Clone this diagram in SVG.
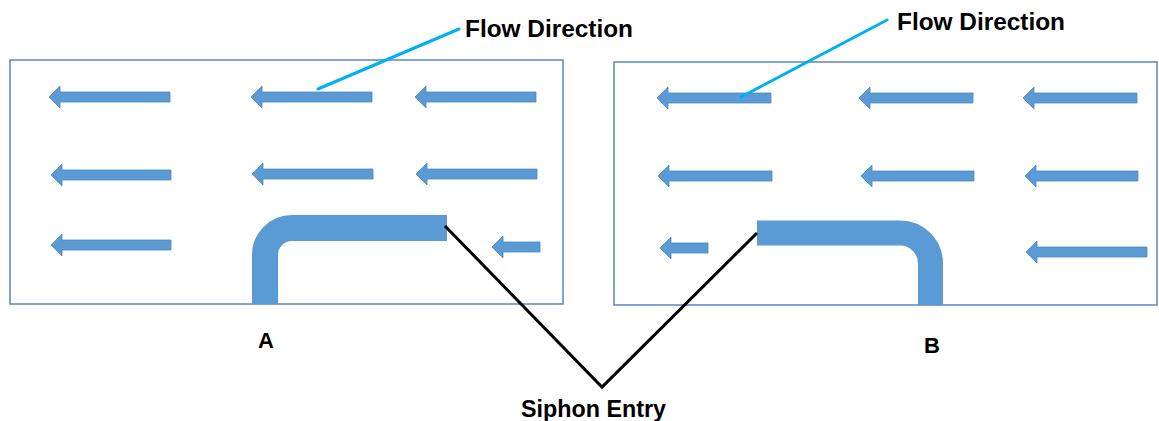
<svg xmlns="http://www.w3.org/2000/svg" width="1159" height="421" viewBox="0 0 1159 421">
<style>
.box{fill:#ffffff;stroke:#5A87BE;stroke-width:1.5}
.arr{fill:#5B9BD5;stroke:#4F86BF;stroke-width:0.8;stroke-linejoin:miter}
.siphon{fill:none;stroke:#5B9BD5}
.lbl{font-family:"Liberation Sans",Arial,sans-serif;font-weight:bold;fill:#000000}
.blue{stroke:#00B0F0;stroke-width:3;fill:none;stroke-linecap:round}
.blk{stroke:#000000;stroke-width:3;fill:none;stroke-linejoin:miter}
</style>
<rect width="1159" height="421" fill="#ffffff"/>
<g id="panelA">
<rect class="box" x="10" y="60" width="553" height="244"/>
<g id="arrowsA">
<polygon class="arr" points="49,97 60,86 60,92 170,92 170,102 60,102 60,108"/>
<polygon class="arr" points="251,97 262,86 262,92 372,92 372,102 262,102 262,108"/>
<polygon class="arr" points="415,97 426,86 426,92 536,92 536,102 426,102 426,108"/>
<polygon class="arr" points="51,175 62,164 62,170 171,170 171,180 62,180 62,186"/>
<polygon class="arr" points="252,174 263,163 263,169 373,169 373,179 263,179 263,185"/>
<polygon class="arr" points="416,174 427,163 427,169 537,169 537,179 427,179 427,185"/>
<polygon class="arr" points="51,245 62,234 62,240 171,240 171,250 62,250 62,256"/>
<polygon class="arr" points="492,247 503,236 503,242 540,242 540,252 503,252 503,258"/>
</g>
<path id="siphonA" class="siphon" stroke-width="26" d="M265 304 V255 A27 27 0 0 1 292 228 H447"/>
<text id="labelA" class="lbl" x="258" y="348" font-size="22">A</text>
</g>
<g id="panelB">
<rect class="box" x="614" y="62" width="543" height="243"/>
<g id="arrowsB">
<polygon class="arr" points="657,98 668,87 668,93 771,93 771,103 668,103 668,109"/>
<polygon class="arr" points="859,98 870,87 870,93 973,93 973,103 870,103 870,109"/>
<polygon class="arr" points="1023,98 1034,87 1034,93 1137,93 1137,103 1034,103 1034,109"/>
<polygon class="arr" points="658,176 669,165 669,171 772,171 772,181 669,181 669,187"/>
<polygon class="arr" points="861,176 872,165 872,171 974,171 974,181 872,181 872,187"/>
<polygon class="arr" points="1025,176 1036,165 1036,171 1138,171 1138,181 1036,181 1036,187"/>
<polygon class="arr" points="660,248 671,237 671,243 708,243 708,253 671,253 671,259"/>
<polygon class="arr" points="1026,252 1037,241 1037,247 1147,247 1147,257 1037,257 1037,263"/>
</g>
<path id="siphonB" class="siphon" stroke-width="25" d="M757 233 H900 A30.5 30.5 0 0 1 930.5 263.5 V305"/>
<text id="labelB" class="lbl" x="924" y="353" font-size="22">B</text>
</g>
<g id="flowLabelA"><text class="lbl" x="465" y="37" font-size="23" textLength="168" lengthAdjust="spacingAndGlyphs">Flow Direction</text></g>
<g id="flowLabelB"><text class="lbl" x="897" y="30" font-size="23" textLength="168" lengthAdjust="spacingAndGlyphs">Flow Direction</text></g>
<g id="siphonLabel"><text class="lbl" x="521" y="417" font-size="23" textLength="145" lengthAdjust="spacingAndGlyphs">Siphon Entry</text></g>
<g id="connectors">
<line class="blue" x1="318" y1="89" x2="459" y2="29"/>
<line class="blue" x1="741" y1="97" x2="887" y2="20"/>
<polyline class="blk" points="445,226 602,387 757,233"/>
</g>
</svg>
